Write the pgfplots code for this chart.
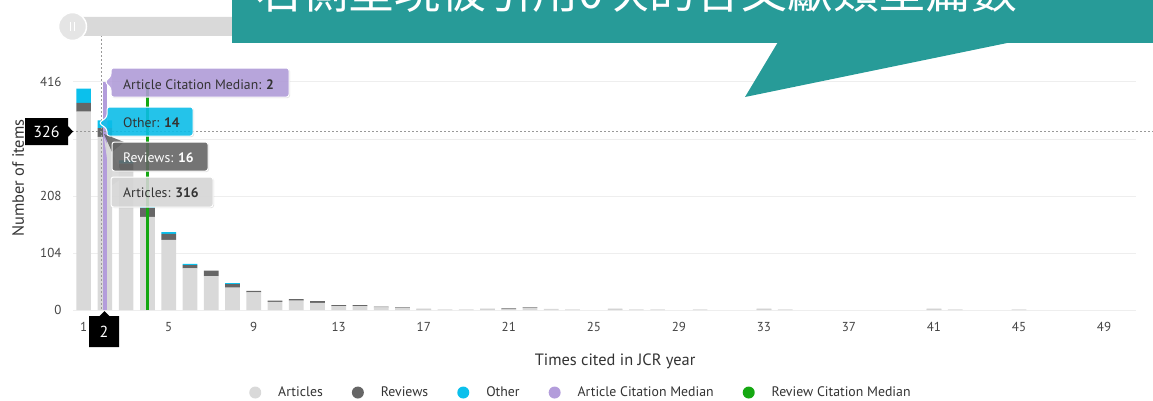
\documentclass[border=0pt]{standalone}
\usepackage{pgfplots}
\pgfplotsset{compat=1.18}
\usepackage{pgfplotstable}
\usepackage{fontspec}
\setmainfont{PT Sans}
\newfontfamily\cjk{Noto Sans CJK TC}
\definecolor{artc}{HTML}{D9D9D9}
\definecolor{revc}{HTML}{666666}
\definecolor{othc}{HTML}{0BC0EC}
\definecolor{artmed}{HTML}{B39DDB}
\definecolor{revmed}{HTML}{15A812}
\definecolor{gridc}{HTML}{EEEEEE}
\definecolor{tickc}{HTML}{444444}
\definecolor{teal}{HTML}{279B98}
\definecolor{txtc}{HTML}{333333}

% times cited, articles, reviews, other
\pgfplotstableread{
x  art rev oth
1  362 16 26
2  316 16 14
3  255 12 6
4  170 16 2
5  128 11 3
6  76  6  2
7  62  10 0
8  41  6  2
9  32  3  0
10 15  2  0
11 17  3  0
12 13  3  0
13 7   2  0
14 7   2  0
15 5   1  0
16 4   1  0
17 1   1  0
18 1   0  0
19 1   0  0
20 1   1  0
21 1   2  0
22 4   1  0
23 2   0  0
24 1   0  0
25 0   0  0
26 1   1  0
27 1   0  0
28 1   0  0
29 0   0  0
30 1   0  0
31 0   0  0
32 0   0  0
33 1   1  0
34 1   0  0
35 0   0  0
41 1   1  0
42 1   0  0
45 1   0  0
}\citetable

\pgfplotsset{
  chartbox/.style={
    at={(73pt,90pt)}, anchor=south west,
    scale only axis, width=1063pt, height=228pt,
    xmin=0.5, xmax=50.5, ymin=0, ymax=416,
  },
}

\begin{document}
\begin{tikzpicture}
\begin{axis}[
  chartbox,
  ybar stacked, bar width=14.7pt,
  xtick={1,5,...,49}, ytick={0,104,208,312,416},
  yticklabels={0,104,208,,416},
  axis line style={draw=none}, major tick length=0pt,
  ymajorgrids, grid style={color=gridc, line width=1pt},
  tick label style={font=\fontsize{13}{15}\selectfont, text=tickc},
  /pgf/number format/assume math mode=true,
  yticklabel style={xshift=-8pt},
  xticklabel style={yshift=-9pt},
  xlabel={Times cited in JCR year},
  ylabel={Number of items},
  label style={font=\fontsize{16.4}{18}\selectfont, text=txtc},
  xlabel style={at={(axis description cs:0.51,-0.2237)}, anchor=center},
  ylabel style={at={(axis description cs:-0.0517,0.579)}, anchor=center},
]
\addplot[fill=artc, draw=none] table[x=x, y=art] {\citetable};
\addplot[fill=revc, draw=none] table[x=x, y=rev] {\citetable};
\addplot[fill=othc, draw=none] table[x=x, y=oth] {\citetable};
\end{axis}

\begin{axis}[
  chartbox, hide axis,
  legend image code/.code={\fill[#1] (0pt,0pt) circle (6pt);},
  legend style={
    at={(axis description cs:0.1628,-0.362)}, anchor=west,
    draw=none, fill=none, legend columns=5,
    font=\fontsize{13.8}{16}\selectfont, text=txtc,
    nodes={inner sep=0pt},
    /tikz/every odd column/.style={column sep=17pt},
    /tikz/every even column/.style={column sep=29pt},
  },
]
\addlegendimage{fill=artc, draw=none}
\addlegendentry{Articles}
\addlegendimage{fill=revc, draw=none}
\addlegendentry{Reviews}
\addlegendimage{fill=othc, draw=none}
\addlegendentry{Other}
\addlegendimage{fill=artmed, draw=none}
\addlegendentry{Article Citation Median}
\addlegendimage{fill=revmed, draw=none}
\addlegendentry{Review Citation Median}
\addplot[forget plot, artmed, line width=3.5pt] coordinates {(2,0) (2,416)};
\addplot[forget plot, revmed, line width=3.5pt] coordinates {(4,0) (4,416)};
\end{axis}

% overlays in pixel coordinates (origin top left)
\begin{scope}[x=1pt, y=-1pt, yshift=400pt]
  % crosshair
  \draw[black!40, line width=0.8pt, dash pattern=on 2pt off 2pt] (101.5,35) -- (101.5,310);
  \draw[black!40, line width=0.8pt, dash pattern=on 2pt off 2pt] (72,131) -- (1153,131);

  \tikzset{tip/.style={line width=1pt, draw=white, rounded corners=2.5pt, fill opacity=0.88}}
  \tikzset{shad/.style={fill=black, opacity=0.12, rounded corners=2.5pt}}
  \tikzset{tiptext/.style={anchor=west, font=\fontsize{13.7}{15}\selectfont, inner sep=0pt}}
  % articles tooltip
  \fill[artc, opacity=0.9] (104,138) -- (124,177) -- (111,186) -- cycle;
  \fill[shad] (112,178) rectangle (214,208);
  \path[tip, fill=artc] (111,177) rectangle (213,207);
  \node[tiptext, text=txtc] at (123,193) {Articles: \textbf{316}};
  % reviews tooltip
  \fill[revc, opacity=0.9] (104,134) -- (124,142) -- (112,152) -- cycle;
  \fill[shad] (113,143) rectangle (209,172);
  \path[tip, fill=revc] (112,142) rectangle (208,171);
  \node[tiptext, text=white] at (123,158) {Reviews: \textbf{16}};
  % other tooltip
  \fill[shad] (108,108) rectangle (194,137);
  \path[tip, fill=othc] (107,107) -- (193,107) -- (193,136) -- (107,136) -- (107,129) -- (99,123) -- (107,117) -- cycle;
  \node[tiptext, text=txtc] at (123,123) {Other: \textbf{14}};
  % article median tooltip
  \fill[shad] (112,69) rectangle (290,98);
  \path[tip, fill=artmed] (111,68) -- (289,68) -- (289,97) -- (111,97) -- (111,88) -- (105,82) -- (111,76) -- cycle;
  \node[tiptext, text=txtc] at (123,84.5) {Article Citation Median: \textbf{2}};

  % crosshair labels
  \fill[black] (25,118) -- (68,118) -- (68,126) -- (73,131.5) -- (68,137) -- (68,145) -- (25,145) -- cycle;
  \node[text=white, font=\fontsize{16}{18}\selectfont] at (46.5,131.5) {326};
  \fill[black] (89,316) -- (99.5,316) -- (104.5,311) -- (109.5,316) -- (119,316) -- (119,347) -- (89,347) -- cycle;
  \node[text=white, font=\fontsize{16}{18}\selectfont] at (104,332) {2};

  % scrollbar
  \fill[artc, rounded corners=9pt] (60,17) rectangle (300,36);
  \draw[fill=black!10, draw=white, line width=1.5pt] (72.5,26.5) circle (14);
  \draw[white, line width=1pt] (70.5,22) -- (70.5,31) (74.5,22) -- (74.5,31);

  % callout
  \begin{scope}
    \clip (0,0) rectangle (1153,400);
    \fill[teal] (232,-5) rectangle (1153,43);
    \fill[teal] (778,42) -- (745,97) -- (1012,42) -- cycle;
    \node[anchor=base west, inner sep=0pt, text=white, font=\cjk\fontsize{46}{46}\selectfont] at (256,8.5) {右側呈現被引用0次的各文獻類型篇數};
  \end{scope}
\end{scope}
\pgfresetboundingbox
\useasboundingbox (0,0) rectangle (1153pt,400pt);
\end{tikzpicture}
\end{document}
